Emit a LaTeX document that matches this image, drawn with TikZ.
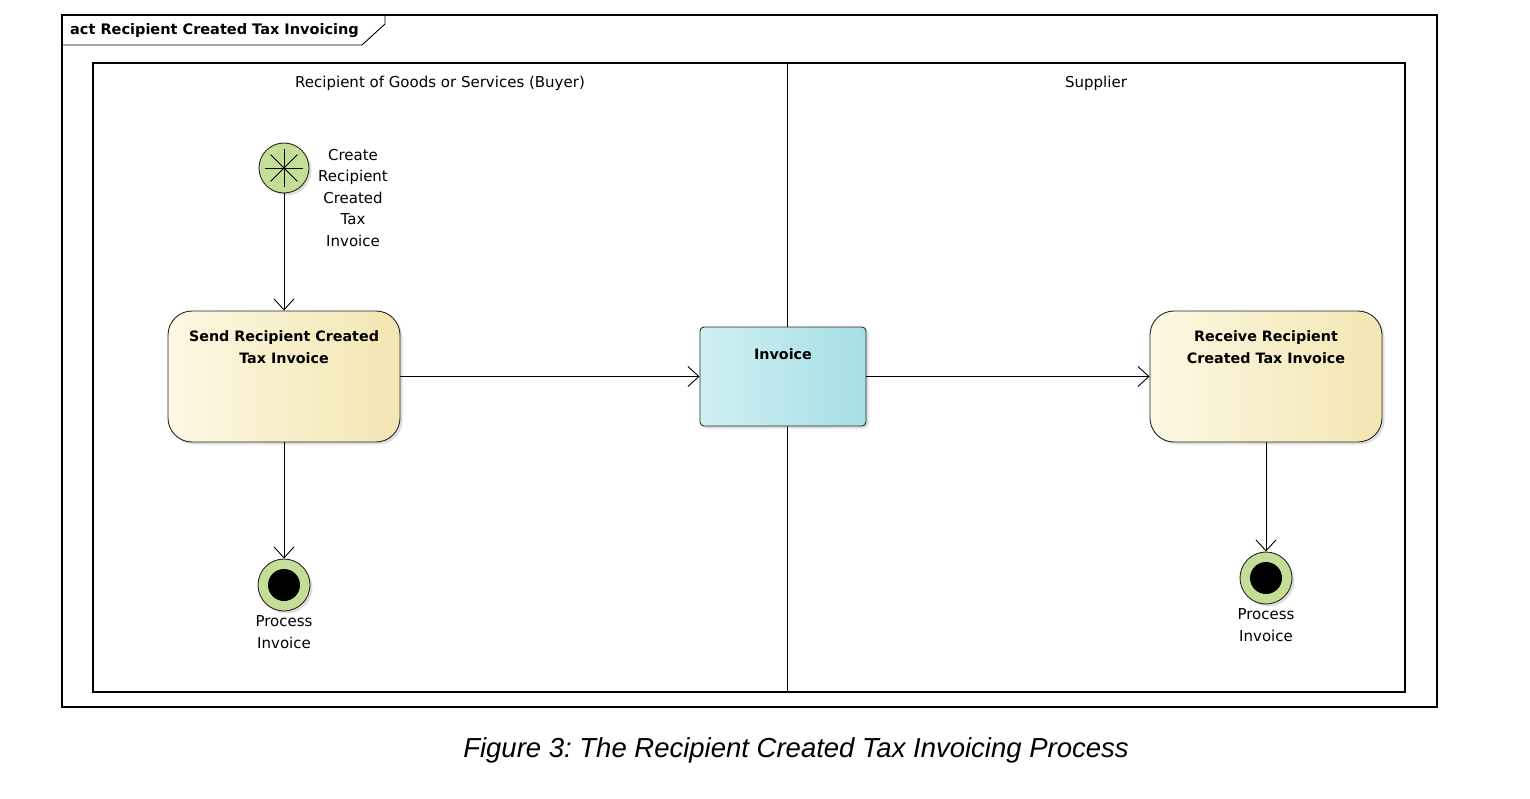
\documentclass[tikz,border=0pt]{standalone}
\usepackage{fontspec}
\setmainfont{DejaVu Sans}
\newfontfamily\captionfont{Liberation Sans}
\usetikzlibrary{arrows.meta,shadows}

\definecolor{actionLeft}{HTML}{FCF8E3}
\definecolor{actionRight}{HTML}{F2E6B2}
\definecolor{objectLeft}{HTML}{D0EFF2}
\definecolor{objectRight}{HTML}{A6DFE4}
\definecolor{stateGreen}{HTML}{C4DE98}

\begin{document}
\frenchspacing
\begin{tikzpicture}
[x=1pt,y=-1pt,
  flowLine/.style={-{Straight Barb[length=11pt,width=20pt]},line width=0.9pt},%
  boxShadow/.style={drop shadow={shadow xshift=2.5pt,shadow yshift=-2.5pt,opacity=0.25}},%
  actionBox/.style={shape=rectangle,rounded corners=24pt,draw=black!85,line width=0.9pt,
    left color=actionLeft,right color=actionRight,boxShadow,
    minimum width=232pt,minimum height=131pt,inner sep=0pt},%
  objectBox/.style={shape=rectangle,rounded corners=4pt,draw=black!85,line width=0.9pt,
    left color=objectLeft,right color=objectRight,boxShadow,
    minimum width=166pt,minimum height=99pt,inner sep=0pt},%
  boxText/.style={anchor=north,yshift=-17pt,align=center,font=\fontsize{14.3}{21.5}\selectfont\bfseries},%
  smallText/.style={align=center,font=\fontsize{15}{21.5}\selectfont},%
  initialState/.style={shape=circle,minimum size=50pt,inner sep=0pt,draw=black!85,
    line width=0.9pt,fill=stateGreen,boxShadow},%
  finalState/.style={shape=circle,minimum size=52pt,inner sep=0pt,draw=black!85,
    line width=0.9pt,fill=stateGreen,boxShadow,
    path picture={\fill[black] (path picture bounding box.center) circle (16pt);}}]
\useasboundingbox (0,0) rectangle (1530,799);
%% frame and swimlanes
\draw[line width=1.4pt] (62,15) rectangle (1437,707);
\draw[line width=0.9pt] (62,45) -- (362,45) -- (385,24) -- (385,15);
\node (frameTitle) at (70,30.5) [anchor=west,inner sep=0pt,
  font=\fontsize{14.5}{17}\selectfont\bfseries] {act Recipient Created Tax Invoicing};
\draw[line width=1.1pt] (93,63) rectangle (1405,692);
\draw[line width=0.9pt] (787,63) -- (787,692);
\node (buyerLane) at (440,83.5) [smallText] {Recipient of Goods or Services (Buyer)};
\node (supplierLane) at (1096,83.5) [smallText] {Supplier};
%% nodes
\node (start) at (284,168) [initialState] {};
\foreach \a in {0,45,...,315}
{
  \draw[line width=0.8pt] (start.center) -- ++(\a:19);
}
\node (startText) at (353,198) [smallText] {Create\\Recipient\\Created\\Tax\\Invoice};
\node (send) at (284,376.5) [actionBox,
  label={[boxText]north:{Send Recipient Created\\Tax Invoice}}] {};
\node (invoice) at (783,376.5) [objectBox,
  label={[boxText,yshift=-2pt]north:{Invoice}}] {};
\node (receive) at (1266,376.5) [actionBox,
  label={[boxText]north:{Receive Recipient\\Created Tax Invoice}}] {};
\node (endBuyer) at (284,585) [finalState,
  label={[smallText,yshift=-1pt]below:{Process\\Invoice}}] {};
\node (endSupplier) at (1266,578) [finalState,
  label={[smallText,yshift=-1pt]below:{Process\\Invoice}}] {};
%% edges
\path
\foreach \startnode/\endnode in {start/send, send/endBuyer, send/invoice,
  invoice/receive, receive/endSupplier}
{
  (\startnode) edge[flowLine] (\endnode)
};
\node (caption) at (796,750) [font=\captionfont\fontsize{27.5}{33}\selectfont\itshape]
  {Figure 3: The Recipient Created Tax Invoicing Process};
\end{tikzpicture}
\end{document}
